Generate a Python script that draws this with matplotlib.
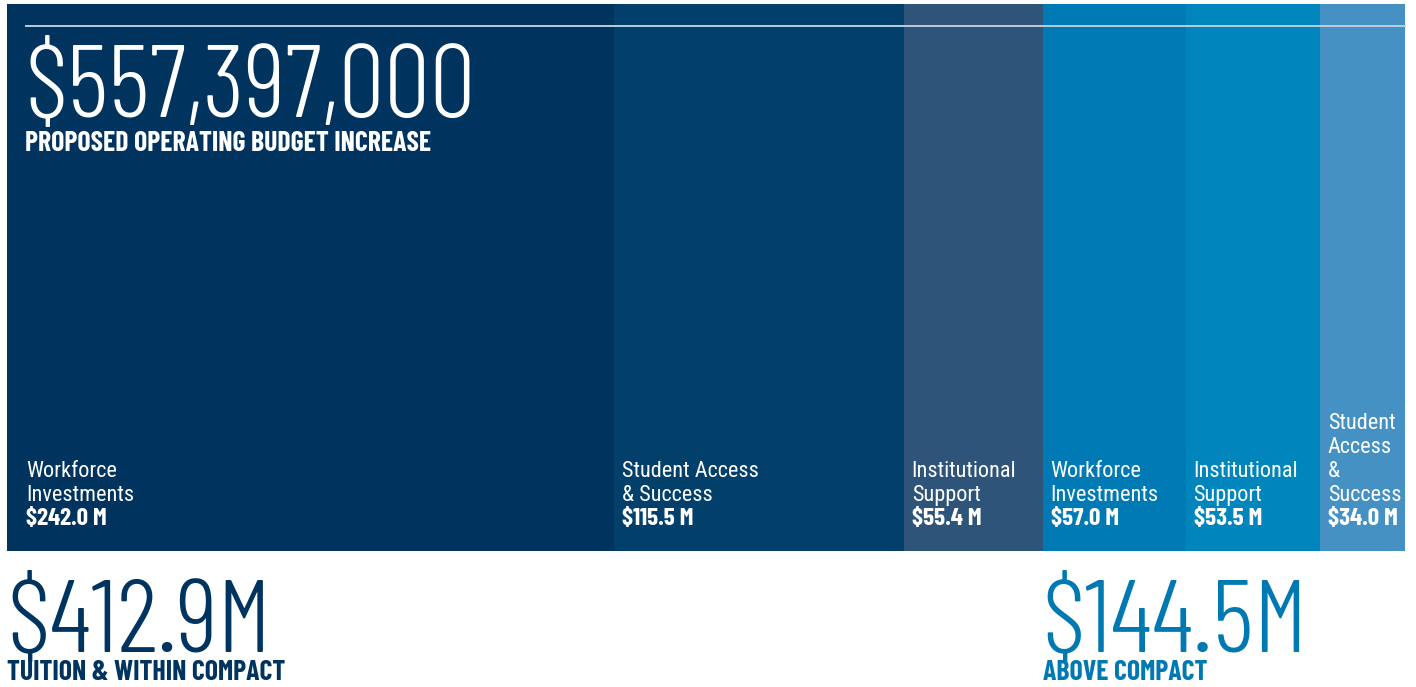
import matplotlib.pyplot as plt
import matplotlib.transforms as mtransforms

# Budget pieces (millions of dollars), left to right
names = [
    ['Workforce', 'Investments'],
    ['Student Access', '& Success'],
    ['Institutional', 'Support'],
    ['Workforce', 'Investments'],
    ['Institutional', 'Support'],
    ['Student', 'Access', '&', 'Success'],
]
values = [242.0, 115.5, 55.4, 57.0, 53.5, 34.0]
colors = ['#00345E', '#023F6A', '#2E5479', '#007AB5', '#0085BD', '#4591C3']

headline = '$557,397,000'
headline_label = 'PROPOSED OPERATING BUDGET INCREASE'
group_labels = ['TUITION & WITHIN COMPACT', 'ABOVE COMPACT']
group_sizes = [3, 3]
group_colors = ['#003460', '#0079B3']

# condensed faces, closest to the original's Univers Condensed
plt.rcParams['font.family'] = ['Roboto Condensed', 'DejaVu Sans']
big_font = ['Barlow Condensed', 'Roboto Condensed', 'DejaVu Sans']

W, H = 1416, 687
fig = plt.figure(figsize=(W / 100, H / 100), dpi=100)
fig.patch.set_facecolor('white')

# axes covers exactly the bar region
ax = fig.add_axes([7 / W, 1 - 551 / H, (1405 - 7) / W, (551 - 4) / H])
total = sum(values)
lefts = []
acc = 0
for v in values:
    lefts.append(acc)
    acc += v
ax.barh(0, values, left=lefts, height=1, color=colors, edgecolor='none')
ax.set_xlim(0, total)
ax.set_ylim(-0.5, 0.5)
ax.axis('off')

def py(y):
    # pixel row -> figure fraction
    return 1 - y / H

# thin rule near the top
fig.add_artist(plt.Line2D([26 / W, 1405 / W], [py(25.5), py(25.5)],
                          color='#BCCCDB', lw=1.4, transform=fig.transFigure))

fig.text(25 / W, py(117), headline, color='white', fontsize=74, family=big_font,
         fontweight=300, va='baseline', ha='left')
fig.text(25 / W, py(151), headline_label, color='white', fontsize=20, family=big_font,
         fontweight='bold', va='baseline', ha='left')

# segment labels
blend = mtransforms.blended_transform_factory(ax.transData, fig.transFigure)
for i, (nm, v) in enumerate(zip(names, values)):
    x = lefts[i]
    dx = 19 if i == 0 else 8
    p = mtransforms.ScaledTranslation(dx / 100, 0, fig.dpi_scale_trans)
    ax.text(x, py(525), '$%.1f M' % v, transform=blend + p, color='white',
            fontsize=18, family=big_font, fontweight='bold', va='baseline', ha='left')
    for j, line in enumerate(reversed(nm)):
        ax.text(x, py(501 - 24 * j), line, transform=blend + p, color='white',
                fontsize=16, va='baseline', ha='left')

# group totals below the bar
start = 0
for lab, n, c in zip(group_labels, group_sizes, group_colors):
    gtotal = sum(values[start:start + n])
    x = lefts[start]
    ax.text(x, py(652), '$%.1fM' % gtotal, transform=blend, color=c, fontsize=75,
            family=big_font, fontweight=300, va='baseline', ha='left', clip_on=False)
    ax.text(x, py(680), lab, transform=blend, color=c, fontsize=20, family=big_font,
            fontweight='bold', va='baseline', ha='left', clip_on=False)
    start += n

fig.savefig('out.png', dpi=100)
